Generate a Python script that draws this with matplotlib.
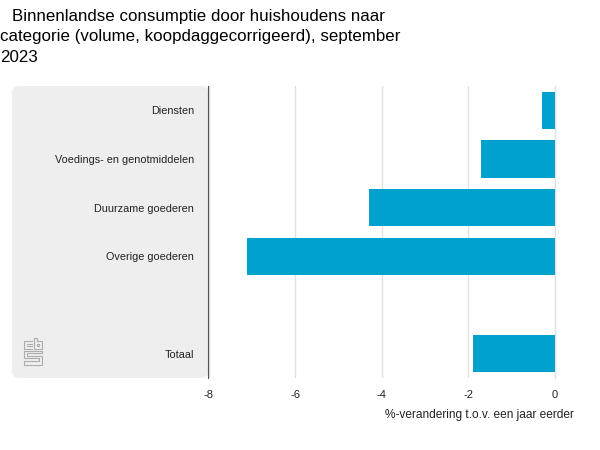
import matplotlib
matplotlib.use('Agg')
import matplotlib.pyplot as plt
from matplotlib.lines import Line2D
from matplotlib.patches import FancyBboxPatch

categories = ['Diensten', 'Voedings- en genotmiddelen', 'Duurzame goederen', 'Overige goederen', '', 'Totaal']
values = [-0.3, -1.7, -4.3, -7.1, None, -1.9]
xticks = [-8, -6, -4, -2, 0]
title_lines = ['Binnenlandse consumptie door huishoudens naar',
               'categorie (volume, koopdaggecorrigeerd), september',
               '2023']

plt.rcParams['font.family'] = ['Liberation Sans', 'DejaVu Sans']

fig = plt.figure(figsize=(6, 4.5), dpi=100)
ax = fig.add_axes([208.5 / 600, 1 - 378 / 450, (555 - 208.5) / 600, (378 - 86) / 450])
ax.set_xlim(-8, 0)
ax.set_ylim(len(categories) - 0.5, -0.5)

# grijs vlak achter de labels
bg = FancyBboxPatch((12 / 600, 1 - 378 / 450), (208.5 - 12) / 600, (378 - 86) / 450,
                    boxstyle='round,pad=0,rounding_size=0.012', transform=fig.transFigure,
                    facecolor='#eeeeee', edgecolor='none', mutation_aspect=600 / 450, zorder=-1)
fig.add_artist(bg)

ax.patch.set_alpha(0)
for i, v in enumerate(values):
    if v is not None:
        ax.barh(i, v, height=0.77, color='#00a1cd', zorder=3)

ax.set_xticks(xticks)
ax.set_xticklabels([str(t) for t in xticks], fontsize=8, color='#222222')
ax.set_yticks(range(len(categories)))
ax.set_yticklabels(categories, fontsize=7.85, color='#222222', va='center_baseline')
ax.tick_params(axis='both', length=0)
ax.tick_params(axis='x', pad=9)
ax.tick_params(axis='y', pad=10.5)
ax.grid(axis='x', color='#e1e1e1', linewidth=1, zorder=1)
# gridlijn bij 0 valt op de rand van de as
ax.axvline(0, color='#e1e1e1', linewidth=1, zorder=1, clip_on=False)
for s in ['top', 'right', 'bottom']:
    ax.spines[s].set_visible(False)
ax.spines['left'].set_color('#555555')
ax.spines['left'].set_linewidth(0.8)

fig.text(574 / 600, 1 - 415 / 450, '%-verandering t.o.v. een jaar eerder', fontsize=8.6,
         ha='right', va='center', color='#222222')

# eerste regel springt in
for i, line in enumerate(title_lines):
    fig.text((12 if i == 0 else 0) / 600, 1 - (17 + 20 * i) / 450, line,
             fontsize=12.2, ha='left', va='center', color='#000000')

# cbs logo
logo_lines = [
    [(32, 341), (24, 341), (24, 349), (32, 349)],
    [(27, 344), (32, 344)],
    [(27, 346), (32, 346)],
    [(34, 338), (34, 349), (42, 349), (42, 341), (37, 341), (37, 338), (34, 338)],
    [(37, 344), (39, 344), (39, 346), (37, 346), (37, 344)],
    [(42, 351), (24, 351), (24, 358), (39, 358), (39, 361), (24, 361), (24, 365), (42, 365), (42, 356), (27, 356), (27, 353), (42, 353), (42, 351)],
]
for pts in logo_lines:
    xs = [p[0] / 600 for p in pts]
    ys = [1 - p[1] / 450 for p in pts]
    fig.add_artist(Line2D(xs, ys, transform=fig.transFigure, color='#adadad', linewidth=0.8))

fig.savefig('out.png', dpi=100)
